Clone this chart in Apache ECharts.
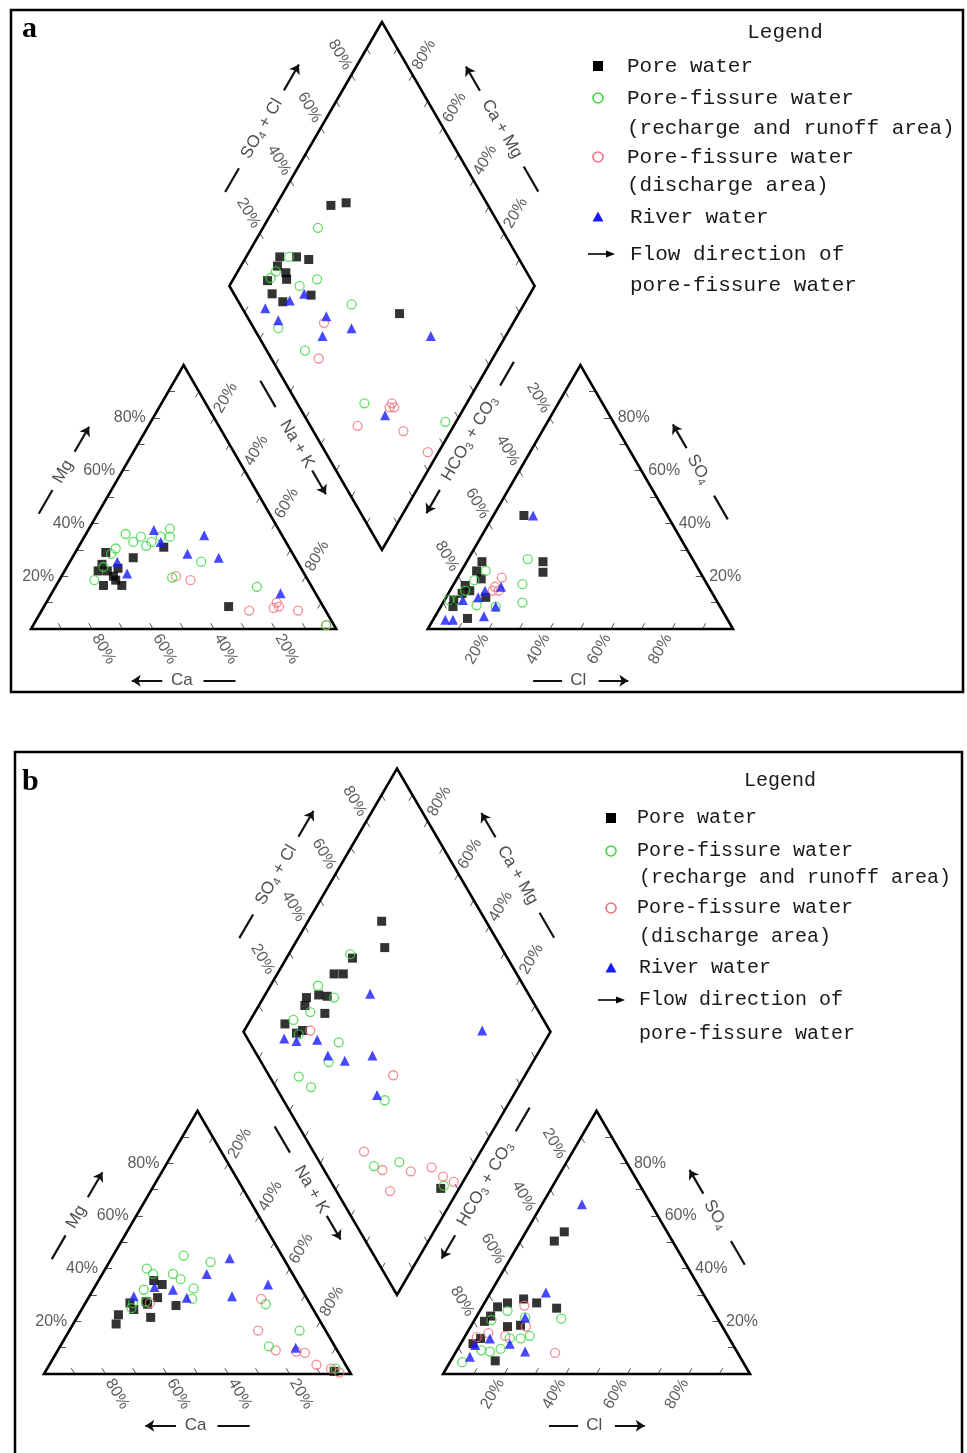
<!DOCTYPE html>
<html>
<head>
<meta charset="utf-8">
<script src="https://cdn.jsdelivr.net/npm/echarts@6/dist/echarts.min.js"></script>
<style>
  html, body { margin: 0; padding: 0; background: #fff; }
  #chart { width: 967px; height: 1453px; }
</style>
</head>
<body>
<div id="chart"></div>
<script>
// ---------------------------------------------------------------
// Piper diagrams of groundwater / river water samples (meq %)
//   cation triangle : [Ca, Mg]          (Na+K = 100 - Ca - Mg)
//   anion triangle  : [Cl, SO4]         (HCO3+CO3 = 100 - Cl - SO4)
//   central diamond : [Na+K, SO4+Cl]
// ---------------------------------------------------------------

// ----- panel a -----
const A_PORE_CAT  = [[61,29],[53,27],[41,31],[67,22],[64,22],[60,23],[63,20],[68,16.5],[62,16.5],[63,18.5],[64.5,24.5],[31,8.5]];
const A_RECH_CAT  = [[51,36],[50,33],[46.5,35],[46.5,31.5],[44,33],[40,35],[35.5,38],[37,35],[57,30.5],[59.5,28.5],[70,18.5],[64.5,23.5],[44,19.5],[31.5,25.5],[18,16],[2.5,1.5]];
const A_DISC_CAT  = [[42.5,20],[38.5,18.5],[25,7],[16.5,8],[14.5,8.5],[14.5,10],[9,7],[2.5,1.5]];
const A_RIVER_CAT = [[41,37.5],[41,33],[59,25.5],[58,21],[34.5,28.5],[25.5,35.5],[25,27],[11.5,13.5]];

const A_PORE_AN   = [[10,43],[25,25.5],[27,21.5],[5,25.5],[5,22],[8,19],[4,16.5],[4.5,13.5],[3,11],[4,8.5],[11,4],[13,12],[6.5,14.5]];
const A_RECH_AN   = [[19.5,26.5],[22.5,17],[26,10],[8,22],[5,14.5],[11.5,9],[4.5,11],[18,8.5],[6,18.5],[1.5,11]];
const A_DISC_AN   = [[14.5,19.5],[14,16],[16,14.5],[14,14.5]];
const A_RIVER_AN  = [[13,43],[16,16],[11.5,14.5],[10.5,12],[6,11],[18,8.5],[16,4.8],[4,3.5],[6.5,3.5]];

const A_PORE_DIA  = [[18,48.5],[22.5,54],[11,22],[16.5,27.5],[21,31],[11.5,13.5],[16,21],[12,19.5],[15.5,12.5],[20.5,14.5],[28.5,25],[17.5,20],[61,50.5]];
const A_RECH_DIA  = [[18,40],[27.5,30],[23,23],[14,25],[12.5,18],[43.5,36.5],[24,8],[37,12.5],[66.5,22],[96.5,45],[12,15]];
const A_DISC_DIA  = [[38,24],[43,15.5],[68.5,15.5],[75.5,31],[75.5,29.5],[77,31],[84.5,29.5],[96.5,33.5]];
const A_RIVER_DIA = [[16,7.5],[22.5,9.5],[22.5,17],[26,23],[37.5,26],[40,21],[48,32],[75.5,56.5],[75.5,26.5]];

// ----- panel b -----
const B_PORE_CAT  = [[64.5,22.5],[67,19],[58.5,27],[58.5,24.5],[53,27.5],[46.5,35.5],[44.5,34],[48.5,29],[54.5,21.5],[44,26],[5,1],[53,26.5]];
const B_RECH_CAT  = [[46.5,40],[45.5,38],[39,38],[37.5,36],[32,45],[24.5,42.5],[35,32.5],[37.5,28.5],[51.5,32],[57.5,27],[59,25],[53,27.5],[14.5,26.5],[21.5,10.5],[8.5,16.5],[4,2]];
const B_DISC_CAT  = [[52,27],[15,28.5],[22,16.5],[20,9],[13.5,8.5],[11,8],[9.5,3.5],[5.5,2],[3.5,0.5]];
const B_RIVER_CAT = [[56,29.5],[47.5,33],[42,32],[39,29],[28,38],[17.5,44],[24,29.5],[10,34],[13,10]];

const B_PORE_AN   = [[11,50.5],[12.5,54],[14.5,5],[4,11.5],[5.5,13.5],[3.5,20],[4.5,22],[5,25.5],[7.5,27],[12,18],[16,18.5],[12,28.5],[17,27],[24.5,25]];
const B_RECH_AN   = [[28,21],[4,4.5],[11,8.5],[14,9.5],[15,13.5],[18.5,13.5],[21,14.5],[16,21.5],[9,24],[5.5,20.5],[8,9]];
const B_DISC_AN   = [[32.5,8],[13.5,26],[18,18],[13,14.5],[4,14],[7,15.5]];
const B_RIVER_AN  = [[13,64.5],[18,31],[16,21.5],[8.5,13.5],[16,11.5],[22.5,8.5],[5,11],[5.5,6.5]];

const B_PORE_DIA  = [[24,66],[30,62],[21.5,49.5],[18.5,40.5],[21.5,43.5],[17.5,31.5],[20.5,34],[14,27],[15,25],[23,30],[12,15],[19,19.5],[17.5,17],[94,34.5]];
const B_RECH_DIA  = [[20,49.5],[15.5,33],[23,36],[18,25.5],[14,18.5],[33,29],[33.5,22],[26.5,9.5],[32.5,11.5],[59,33],[68,17],[75.5,26],[94.5,36],[18.5,17.5]];
const B_DISC_DIA  = [[21.5,22],[57,40.5],[62,16.5],[71.5,19],[78,17.5],[81,28],[87,35.5],[92.5,37.5],[97,40]];
const B_RIVER_DIA = [[77.5,78],[34,48.5],[14.5,12],[19,15.5],[25.5,22.5],[32,23],[38.5,27.5],[46.5,37.5],[55.5,31.5]];

// axis tick labels
const TICK_VALUES = [20, 40, 60, 80];
const TICK_LABELS = ['20%', '40%', '60%', '80%'];

const GROUP_NAMES = [
  'Pore water',
  'Pore-fissure water (recharge and runoff area)',
  'Pore-fissure water (discharge area)',
  'River water'
];

// ---------------------------------------------------------------
// Piper geometry (triangle side = 100 units)
// ---------------------------------------------------------------
const S = Math.sqrt(3) / 2;
const GAP = 30;
const AX0 = 100 + GAP;           // left corner of the anion triangle
const DCX = 100 + GAP / 2;       // diamond centre x
const DCY = (GAP + 100) * S;     // diamond centre y
const TOP = (GAP + 200) * S;     // diamond apex y

const CAT = { A: [0, 0], B: [100, 0], C: [50, 100 * S] };
const AN  = { A: [AX0, 0], B: [AX0 + 100, 0], C: [AX0 + 50, 100 * S] };
const DIA = { L: [DCX - 50, DCY], T: [DCX, TOP], R: [DCX + 50, DCY], B: [DCX, GAP * S] };

const lerp = (P0, P1, t) => [P0[0] + (P1[0] - P0[0]) * t, P0[1] + (P1[1] - P0[1]) * t];
const add = (P, v, k) => [P[0] + v[0] * k, P[1] + v[1] * k];

function cationXY(d) { const mg = d[1], nak = 100 - d[0] - mg; return [nak + mg / 2, mg * S]; }
function anionXY(d)  { const cl = d[0], so4 = d[1]; return [AX0 + cl + so4 / 2, so4 * S]; }
function diamondXY(d) { const n = d[0], s = d[1]; return [DCX + (n + s - 100) / 2, DCY + (s - n) * S]; }

// edges: where ticks sit, how values run along them, and where their labels go
const EDGES = [
  { P0: CAT.A, P1: CAT.B, v0: 100, v1: 0,   inward: [-0.5, S], label: 'slant', rotate: -60 }, // Ca
  { P0: CAT.A, P1: CAT.C, v0: 0,   v1: 100, inward: [1, 0],    label: 'right' },              // Mg
  { P0: CAT.B, P1: CAT.C, v0: 100, v1: 0,   inward: [-0.5, -S], label: 'slant', rotate: 60 }, // Na+K
  { P0: AN.A,  P1: AN.B,  v0: 0,   v1: 100, inward: [0.5, S],  label: 'slant', rotate: 60 },  // Cl
  { P0: AN.B,  P1: AN.C,  v0: 0,   v1: 100, inward: [-1, 0],   label: 'left' },               // SO4
  { P0: AN.A,  P1: AN.C,  v0: 100, v1: 0,   inward: [0.5, -S], label: 'slant', rotate: -60 }, // HCO3+CO3
  { P0: DIA.L, P1: DIA.T, v0: 0,   v1: 100, inward: [0.5, -S], label: 'slant', rotate: -60 }, // SO4+Cl
  { P0: DIA.T, P1: DIA.R, v0: 100, v1: 0,   inward: [-0.5, -S], label: 'slant', rotate: 60 }, // Ca+Mg
  { P0: DIA.L, P1: DIA.B, v0: 0,   v1: 100, inward: [0.5, S],  label: null },
  { P0: DIA.B, P1: DIA.R, v0: 0,   v1: 100, inward: [-0.5, S], label: null }
];

// axis titles with their dash and arrow, placed parallel to an edge
const TITLES = [
  { P0: CAT.A, P1: CAT.C, n: [-S, 0.5], d: 16.7, dash: [0.34, 0.43],  text: 0.50,  arrow: [0.575, 0.67], label: 'Mg', rotate: 60 },
  { P0: CAT.A, P1: CAT.B, n: [0, -1],   d: 17,   dash: [0.565, 0.67], text: 0.494, arrow: [0.43, 0.33],  label: 'Ca', rotate: 0 },
  { P0: CAT.C, P1: CAT.B, n: [S, 0.5],  d: 19.2, dash: [0.17, 0.27],  text: 0.41,  arrow: [0.51, 0.60],  label: 'Na + K', rotate: -60 },
  { P0: AN.A,  P1: AN.B,  n: [0, -1],   d: 17,   dash: [0.345, 0.44], text: 0.493, arrow: [0.56, 0.657], label: 'Cl', rotate: 0 },
  { P0: AN.B,  P1: AN.C,  n: [S, 0.5],  d: 16.5, dash: [0.32, 0.41],  text: 0.51,  arrow: [0.59, 0.68],  label: 'SO{s|4}', rotate: -60 },
  { P0: AN.A,  P1: AN.C,  n: [-S, 0.5], d: 19.4, dash: [0.81, 0.90],  text: 0.61,  arrow: [0.415, 0.327], label: 'HCO{s|3} + CO{s|3}', rotate: 60 },
  { P0: DIA.L, P1: DIA.T, n: [-S, 0.5], d: 16.6, dash: [0.26, 0.35],  text: 0.50,  arrow: [0.645, 0.743], label: 'SO{s|4} + Cl', rotate: 60 },
  { P0: DIA.T, P1: DIA.R, n: [S, 0.5],  d: 16.5, dash: [0.643, 0.738], text: 0.50, arrow: [0.356, 0.264], label: 'Ca + Mg', rotate: -60 }
];

const GROUP_STYLE = [
  { symbol: 'rect', symbolSize: 9, itemStyle: { color: '#000' }, z: 5 },
  { symbol: 'circle', symbolSize: 9, itemStyle: { color: 'rgba(0,0,0,0)', borderColor: '#3fd63f', borderWidth: 1.3 }, z: 7 },
  { symbol: 'circle', symbolSize: 9, itemStyle: { color: 'rgba(0,0,0,0)', borderColor: '#f2707c', borderWidth: 1.3 }, z: 6 },
  { symbol: 'triangle', symbolSize: 10, itemStyle: { color: '#1a1aff' }, z: 8 }
];

const PANELS = [
  { origin: [31, 629],  width: 702, height: 607,
    groups: [[A_PORE_CAT, A_PORE_AN, A_PORE_DIA], [A_RECH_CAT, A_RECH_AN, A_RECH_DIA],
             [A_DISC_CAT, A_DISC_AN, A_DISC_DIA], [A_RIVER_CAT, A_RIVER_AN, A_RIVER_DIA]] },
  { origin: [44, 1386], width: 706, height: 617,
    groups: [[B_PORE_CAT, B_PORE_AN, B_PORE_DIA], [B_RECH_CAT, B_RECH_AN, B_RECH_DIA],
             [B_DISC_CAT, B_DISC_AN, B_DISC_DIA], [B_RIVER_CAT, B_RIVER_AN, B_RIVER_DIA]] }
];

const X_RANGE = [-9, 242];
const Y_RANGE = [-26, 206];
const SANS = "'Liberation Sans', Arial, sans-serif";
const MONO = "'Liberation Mono', 'DejaVu Sans Mono', monospace";

const grids = [], xAxes = [], yAxes = [], series = [];

PANELS.forEach((p, i) => {
  const kx = p.width / (AX0 + 100), ky = p.height / TOP;
  grids.push({
    left: p.origin[0] + X_RANGE[0] * kx,
    top: p.origin[1] - Y_RANGE[1] * ky,
    width: (X_RANGE[1] - X_RANGE[0]) * kx,
    height: (Y_RANGE[1] - Y_RANGE[0]) * ky
  });
  xAxes.push({ gridIndex: i, type: 'value', min: X_RANGE[0], max: X_RANGE[1], show: false });
  yAxes.push({ gridIndex: i, type: 'value', min: Y_RANGE[0], max: Y_RANGE[1], show: false });

  const ax = { xAxisIndex: i, yAxisIndex: i };

  // outlines
  series.push(Object.assign({
    type: 'lines', coordinateSystem: 'cartesian2d', polyline: true, silent: true, z: 3,
    lineStyle: { color: '#000', width: 2.6, opacity: 1, join: 'miter' },
    data: [
      { coords: [CAT.A, CAT.B, CAT.C, CAT.A, CAT.B] },
      { coords: [AN.A, AN.B, AN.C, AN.A, AN.B] },
      { coords: [DIA.L, DIA.T, DIA.R, DIA.B, DIA.L, DIA.T] }
    ]
  }, ax));

  // ticks every 10 %
  const ticks = [], tickLabels = [];
  EDGES.forEach(e => {
    for (let v = 10; v < 100; v += 10) {
      const P = lerp(e.P0, e.P1, v / 100);
      ticks.push({ coords: [P, add(P, e.inward, 2.2)] });
    }
    if (!e.label) return;
    TICK_VALUES.forEach((v, k) => {
      const P = lerp(e.P0, e.P1, (v - e.v0) / (e.v1 - e.v0));
      if (e.label === 'slant') {
        tickLabels.push({ name: TICK_LABELS[k], value: add(P, e.inward, -7.6),
          label: { rotate: e.rotate, align: 'center' } });
      } else if (e.label === 'right') {
        tickLabels.push({ name: TICK_LABELS[k], value: add(P, [-1, 0], 2.4),
          label: { align: 'right' } });
      } else {
        tickLabels.push({ name: TICK_LABELS[k], value: add(P, [1, 0], 2.2),
          label: { align: 'left' } });
      }
    });
  });
  series.push(Object.assign({
    type: 'lines', coordinateSystem: 'cartesian2d', silent: true, z: 2,
    lineStyle: { color: '#555', width: 1, opacity: 1 }, data: ticks
  }, ax));
  series.push(Object.assign({
    type: 'scatter', symbolSize: 0, silent: true, z: 4, clip: false,
    label: { show: true, position: 'inside', formatter: '{b}', fontSize: 16, fontFamily: SANS,
             color: '#333', verticalAlign: 'middle' },
    data: tickLabels
  }, ax));

  // axis titles
  const dashes = [], arrows = [], titleText = [];
  TITLES.forEach(t => {
    const at = q => add(lerp(t.P0, t.P1, q), t.n, t.d);
    dashes.push({ coords: [at(t.dash[0]), at(t.dash[1])] });
    arrows.push({ coords: [at(t.arrow[0]), at(t.arrow[1])] });
    titleText.push({ name: t.label, value: at(t.text), label: { rotate: t.rotate } });
  });
  series.push(Object.assign({
    type: 'lines', coordinateSystem: 'cartesian2d', silent: true, z: 3,
    lineStyle: { color: '#111', width: 2.2, opacity: 1 }, data: dashes
  }, ax));
  series.push(Object.assign({
    type: 'lines', coordinateSystem: 'cartesian2d', silent: true, z: 3,
    symbol: ['none', 'arrow'], symbolSize: 9,
    lineStyle: { color: '#111', width: 2.2, opacity: 1 }, data: arrows
  }, ax));
  series.push(Object.assign({
    type: 'scatter', symbolSize: 0, silent: true, z: 4, clip: false,
    label: { show: true, position: 'inside', formatter: '{b}', fontSize: 17, lineHeight: 20,
             fontFamily: SANS, color: '#222', align: 'center', verticalAlign: 'middle',
             rich: { s: { fontSize: 11, lineHeight: 11, fontFamily: SANS, color: '#222', verticalAlign: 'bottom' } } },
    data: titleText
  }, ax));

  // samples
  const order = [0, 2, 1, 3];
  order.forEach(g => {
    const [cat, an, dia] = p.groups[g];
    const pts = cat.map(cationXY).concat(an.map(anionXY), dia.map(diamondXY));
    series.push(Object.assign({
      type: 'scatter', name: GROUP_NAMES[g], clip: false, data: pts
    }, GROUP_STYLE[g], ax));
  });
});

// ---------------------------------------------------------------
// panel frames, panel letters and the two legends
// ---------------------------------------------------------------
function legendBlock(L) {
  const font = L.font + 'px ' + MONO;
  const txt = (s, x, y) => ({ type: 'text', x: x, y: y, silent: true,
    style: { text: s, font: font, fill: '#1a1a1a', textVerticalAlign: 'middle' } });
  const r = L.rows;
  const ix = L.iconX;
  return [
    { type: 'text', x: L.titleX, y: L.titleY, silent: true,
      style: { text: 'Legend', font: font, fill: '#1a1a1a', textAlign: 'center', textVerticalAlign: 'middle' } },
    { type: 'rect', silent: true, shape: { x: ix - 5, y: r[0] - 5, width: 10, height: 10 }, style: { fill: '#000' } },
    txt('Pore water', L.textX, r[0]),
    { type: 'circle', silent: true, shape: { cx: ix, cy: r[1], r: 5 }, style: { fill: 'transparent', stroke: '#3fd63f', lineWidth: 1.6 } },
    txt('Pore-fissure water', L.textX, r[1]),
    txt('(recharge and runoff area)', L.textX2, r[2]),
    { type: 'circle', silent: true, shape: { cx: ix, cy: r[3], r: 5 }, style: { fill: 'transparent', stroke: '#f2707c', lineWidth: 1.6 } },
    txt('Pore-fissure water', L.textX, r[3]),
    txt('(discharge area)', L.textX2, r[4]),
    { type: 'polygon', silent: true, shape: { points: [[ix, r[5] - 5.5], [ix + 5.5, r[5] + 4.5], [ix - 5.5, r[5] + 4.5]] }, style: { fill: '#1a1aff' } },
    txt('River water', L.textX3, r[5]),
    { type: 'line', silent: true, shape: { x1: L.arrow[0], y1: r[6], x2: L.arrow[1] - 6, y2: r[6] }, style: { stroke: '#000', lineWidth: 1.6 } },
    { type: 'polygon', silent: true, shape: { points: [[L.arrow[1], r[6]], [L.arrow[1] - 9, r[6] - 3.5], [L.arrow[1] - 9, r[6] + 3.5]] }, style: { fill: '#000' } },
    txt('Flow direction of', L.textX3, r[6]),
    txt('pore-fissure water', L.textX3, r[7])
  ];
}

const graphics = [
  { type: 'rect', silent: true, shape: { x: 11, y: 10, width: 952, height: 682 }, style: { fill: 'transparent', stroke: '#000', lineWidth: 2.5 } },
  { type: 'rect', silent: true, shape: { x: 15, y: 752, width: 947, height: 730 }, style: { fill: 'transparent', stroke: '#000', lineWidth: 2.5 } },
  { type: 'text', x: 22, y: 44, silent: true, style: { text: 'a', font: 'bold 30px "Liberation Serif", "Times New Roman", serif', fill: '#000', textVerticalAlign: 'bottom' } },
  { type: 'text', x: 22, y: 797, silent: true, style: { text: 'b', font: 'bold 30px "Liberation Serif", "Times New Roman", serif', fill: '#000', textVerticalAlign: 'bottom' } }
].concat(
  legendBlock({ font: 21, titleX: 785, titleY: 32, iconX: 598, textX: 627, textX2: 627, textX3: 630,
                rows: [66, 98, 128, 157, 185, 217, 254, 285], arrow: [588, 615] }),
  legendBlock({ font: 20, titleX: 780, titleY: 781, iconX: 611, textX: 637, textX2: 639, textX3: 639,
                rows: [818, 851, 878, 908, 937, 968, 1000, 1034], arrow: [598, 625] })
);

const chart = echarts.init(document.getElementById('chart'), null, { renderer: 'canvas', width: 967, height: 1453 });
chart.setOption({
  animation: false,
  backgroundColor: '#fff',
  grid: grids,
  xAxis: xAxes,
  yAxis: yAxes,
  series: series,
  graphic: graphics
});
</script>
</body>
</html>
